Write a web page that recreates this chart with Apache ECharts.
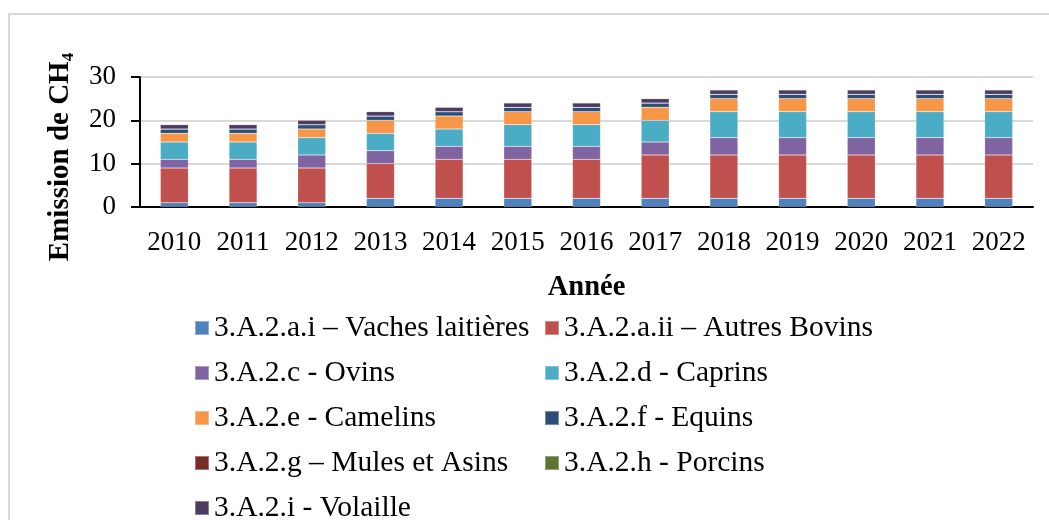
<!DOCTYPE html>
<html>
<head>
<meta charset="utf-8">
<script src="https://cdn.jsdelivr.net/npm/echarts@6/dist/echarts.min.js"></script>
<style>
  html, body { margin: 0; padding: 0; background: #fff; }
  #chart { width: 1049px; height: 520px; }
</style>
</head>
<body>
<div id="chart"></div>
<script>
var years = ['2010', '2011', '2012', '2013', '2014', '2015', '2016', '2017', '2018', '2019', '2020', '2021', '2022'];

var vaches   = [1, 1, 1, 2, 2, 2, 2, 2, 2, 2, 2, 2, 2];
var bovins   = [8, 8, 8, 8, 9, 9, 9, 10, 10, 10, 10, 10, 10];
var ovins    = [2, 2, 3, 3, 3, 3, 3, 3, 4, 4, 4, 4, 4];
var caprins  = [4, 4, 4, 4, 4, 5, 5, 5, 6, 6, 6, 6, 6];
var camelins = [2, 2, 2, 3, 3, 3, 3, 3, 3, 3, 3, 3, 3];
var equins   = [1, 1, 1, 1, 1, 1, 1, 1, 1, 1, 1, 1, 1];
var mules    = [0, 0, 0, 0, 0, 0, 0, 0, 0, 0, 0, 0, 0];
var porcins  = [0, 0, 0, 0, 0, 0, 0, 0, 0, 0, 0, 0, 0];
var volaille = [1, 1, 1, 1, 1, 1, 1, 1, 1, 1, 1, 1, 1];

var names = ['3.A.2.a.i – Vaches laitières', '3.A.2.a.ii – Autres Bovins', '3.A.2.c - Ovins', '3.A.2.d - Caprins',
  '3.A.2.e - Camelins', '3.A.2.f - Equins', '3.A.2.g – Mules et Asins', '3.A.2.h - Porcins', '3.A.2.i - Volaille'];
var values = [vaches, bovins, ovins, caprins, camelins, equins, mules, porcins, volaille];
var colors = ['#4F81BD', '#C0504D', '#8064A2', '#4BACC6', '#F79646', '#2C4D75', '#772C2A', '#5F7530', '#4D3B62'];

var font = 'Liberation Serif';

var chart = echarts.init(document.getElementById('chart'));

var series = names.map(function (n, i) {
  return {
    name: n,
    type: 'bar',
    stack: 'total',
    barWidth: 28,
    itemStyle: { color: colors[i], borderColor: 'rgba(255,255,255,0.35)', borderWidth: 0.5 },
    data: values[i]
  };
});

function legendFor(list, left) {
  return {
    data: list,
    orient: 'vertical',
    left: left,
    top: 313,
    height: 260,
    padding: 0,
    itemWidth: 14,
    itemHeight: 14,
    itemGap: 15,
    icon: 'rect',
    textStyle: { fontFamily: font, fontSize: 29.5, color: '#000', lineHeight: 25 }
  };
}

var option = {
  animation: false,
  color: colors,
  grid: { left: 140, right: 16, top: 77, bottom: 313 },
  legend: [
    legendFor([names[0], names[2], names[4], names[6], names[8]], 194),
    legendFor([names[1], names[3], names[5], names[7]], 544)
  ],
  xAxis: {
    type: 'category',
    data: years,
    name: 'Année',
    nameLocation: 'middle',
    nameGap: 66,
    nameTextStyle: { fontFamily: font, fontSize: 28.5, fontWeight: 'bold', color: '#000' },
    axisLine: { lineStyle: { color: '#000', width: 2 } },
    axisTick: { show: false },
    axisLabel: { fontFamily: font, fontSize: 27, color: '#000', margin: 22, interval: 0 }
  },
  yAxis: {
    type: 'value',
    min: 0,
    max: 30,
    interval: 10,
    axisLine: { show: true, lineStyle: { color: '#000', width: 2 } },
    axisTick: { show: true, length: 9, lineStyle: { color: '#000', width: 2 } },
    splitLine: { lineStyle: { color: '#d9d9d9', width: 2 } },
    axisLabel: { fontFamily: font, fontSize: 27, color: '#000', margin: 24 }
  },
  graphic: [
    {
      type: 'rect',
      shape: { x: 9, y: 14, width: 1100, height: 600 },
      style: { fill: 'none', stroke: '#d9d9d9', lineWidth: 2 },
      silent: true
    },
    {
      type: 'text',
      x: 61,
      y: 157,
      rotation: Math.PI / 2,
      style: {
        text: '{b|Emission de CH}{s|4}',
        align: 'center',
        verticalAlign: 'middle',
        rich: {
          b: { fontFamily: font, fontSize: 29, fontWeight: 'bold', fill: '#000', lineHeight: 32, verticalAlign: 'middle' },
          s: { fontFamily: font, fontSize: 17, fontWeight: 'bold', fill: '#000', lineHeight: 32, verticalAlign: 'bottom' }
        }
      }
    }
  ],
  series: series
};

chart.setOption(option);
</script>
</body>
</html>
